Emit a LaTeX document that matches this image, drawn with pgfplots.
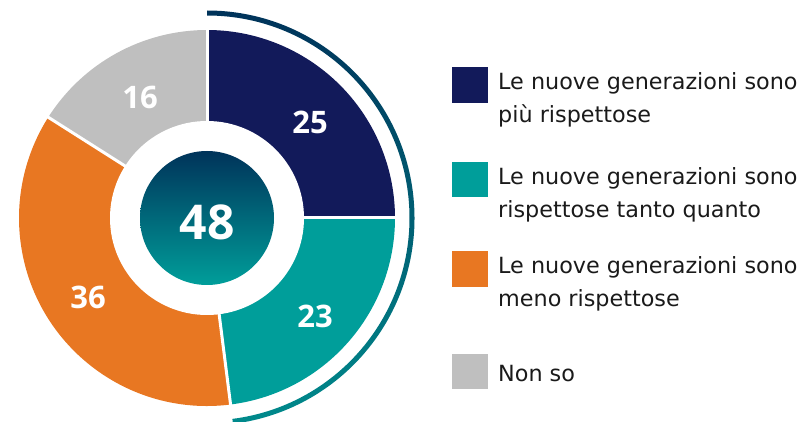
\documentclass[border=0pt]{standalone}
\usepackage{pgfplots}
\pgfplotsset{compat=1.18}
\usepackage{fontspec}
\setmainfont{DejaVu Sans}
\newfontfamily\numfont{Open Sans}
\definecolor{cnavy}{HTML}{121A5A}
\definecolor{cteal}{HTML}{009E9A}
\definecolor{corange}{HTML}{E87722}
\definecolor{cgrey}{HTML}{BFBFBF}
\definecolor{ctop}{HTML}{00335A}
\definecolor{carcbot}{HTML}{008A8C}
\definecolor{ctxt}{HTML}{1A1A1A}
\begin{document}
\begin{tikzpicture}
\begin{axis}[width=807pt,height=421pt,scale only axis,
  xmin=0,xmax=807,ymin=0,ymax=421,hide axis,clip=false]
% data: 25, 23, 36, 16 (percent); cumulative 0,25,48,84,100
\fill[cnavy] (axis cs:207,203) -- +({90-3.6*0}:188pt) arc[start angle={90-3.6*0}, end angle={90-3.6*25}, radius=188pt] -- cycle;
\fill[cteal] (axis cs:207,203) -- +({90-3.6*25}:188pt) arc[start angle={90-3.6*25}, end angle={90-3.6*48}, radius=188pt] -- cycle;
\fill[corange] (axis cs:207,203) -- +({90-3.6*48}:188pt) arc[start angle={90-3.6*48}, end angle={90-3.6*84}, radius=188pt] -- cycle;
\fill[cgrey] (axis cs:207,203) -- +({90-3.6*84}:188pt) arc[start angle={90-3.6*84}, end angle={90-3.6*100}, radius=188pt] -- cycle;
% separators
\draw[white, line width=3pt] (axis cs:207,203) -- +({90-3.6*0}:191pt);
\draw[white, line width=3pt] (axis cs:207,203) -- +({90-3.6*25}:191pt);
\draw[white, line width=3pt] (axis cs:207,203) -- +({90-3.6*48}:191pt);
\draw[white, line width=3pt] (axis cs:207,203) -- +({90-3.6*84}:191pt);
% hole and centre
\fill[white] (axis cs:207,203) circle[radius=97pt];
\shade[top color=ctop, bottom color=cteal] (axis cs:207,203) circle[radius=67pt];
% outer arc spanning 25+23=48
\shade[top color=ctop, bottom color=carcbot]
  ([shift={(90:202.5pt)}]axis cs:207,203) arc[start angle=90, end angle={90-3.6*48}, radius=202.5pt]
  -- ([shift={({90-3.6*48}:207.5pt)}]axis cs:207,203) arc[start angle={90-3.6*48}, end angle=90, radius=207.5pt] -- cycle;
% labels
\begin{scope}[every node/.style={text=white, font=\numfont\bfseries\fontsize{31}{31}\selectfont, inner sep=0pt}]
\node at (axis cs:310,299) {25};
\node at (axis cs:315,105) {23};
\node at (axis cs:88,124) {36};
\node at (axis cs:140,324) {16};
\node[font=\numfont\bfseries\fontsize{48}{48}\selectfont] at (axis cs:207,199) {48};
\end{scope}
% legend
\fill[cnavy] (axis cs:452,318.3) rectangle (axis cs:488,353.7);
\fill[cteal] (axis cs:452,223.7) rectangle (axis cs:488,258.7);
\fill[corange] (axis cs:452,134.3) rectangle (axis cs:488,170);
\fill[cgrey] (axis cs:452,31.7) rectangle (axis cs:488,67);
\begin{scope}[every node/.style={text=ctxt, font=\fontsize{22.3}{22.3}\selectfont, inner sep=0pt, anchor=base west}]
\node at (axis cs:498,331.7) {Le nuove generazioni sono};
\node at (axis cs:498,298.5) {più rispettose};
\node at (axis cs:498,236.7) {Le nuove generazioni sono};
\node at (axis cs:498,203) {rispettose tanto quanto};
\node at (axis cs:498,147.7) {Le nuove generazioni sono};
\node at (axis cs:498,114.5) {meno rispettose};
\node at (axis cs:498,40) {Non so};
\end{scope}
\end{axis}
\pgfresetboundingbox
\path (0,0) rectangle (807pt,421pt);
\end{tikzpicture}
\end{document}
